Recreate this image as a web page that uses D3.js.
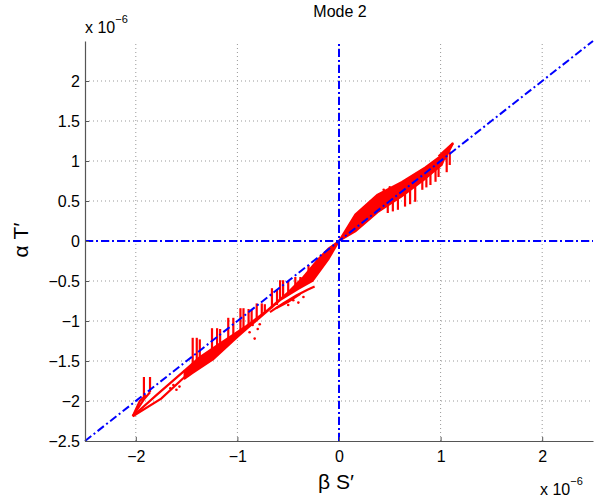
<!DOCTYPE html>
<html>
<head>
<meta charset="utf-8">
<script src="https://cdn.jsdelivr.net/npm/d3@7"></script>
<style>
  body { margin: 0; background: #fff; }
  text { font-family: "Liberation Sans", Arial, sans-serif; fill: #000; }
</style>
</head>
<body>
<div id="chart"></div>
<script>
// values in units of 1e-6
var xTicks = [-2, -1, 0, 1, 2]
var yTicks = [-2.5, -2, -1.5, -1, -0.5, 0, 0.5, 1, 1.5, 2]

// main red band, lower-left part (upper edge then lower edge)
var bandLow = [[-1.52,-1.62],[-1.37,-1.45],[-1.17,-1.28],[-0.91,-1.06],[-0.70,-0.86],
  [-0.50,-0.64],[-0.35,-0.45],[-0.20,-0.22],[-0.10,-0.09],[0,0],
  [-0.10,-0.22],[-0.26,-0.50],[-0.40,-0.60],[-0.58,-0.74],[-0.80,-0.98],
  [-0.91,-1.10],[-1.00,-1.20],[-1.24,-1.48],[-1.44,-1.65],[-1.52,-1.72]]

// main red band, upper-right part
var bandHigh = [[0,0],[0.16,0.33],[0.38,0.58],[0.62,0.74],[0.85,0.92],[1.01,1.07],[1.12,1.22],
  [1.06,1.10],[1.01,0.95],[0.85,0.78],[0.62,0.56],[0.38,0.36],[0.16,0.12],[0,0]]

// thin streaks
var streaks = [
  [[-2.03,-2.19],[-1.80,-1.93],[-1.52,-1.62]],
  [[-2.03,-2.19],[-1.75,-1.97],[-1.52,-1.70]],
  [[-2.03,-2.19],[-1.92,-1.98],[-1.86,-1.89]],
  [[-2.03,-2.19],[-1.96,-2.00],[-1.90,-1.93]],
  [[-0.68,-0.89],[-0.55,-0.78],[-0.42,-0.68],[-0.31,-0.61],[-0.24,-0.57]],
  [[-0.62,-0.84],[-0.50,-0.76],[-0.38,-0.66]],
  [[0.98,1.06],[1.12,1.22]],
  [[1.04,1.02],[1.12,1.22]]
]

// vertical hairs: [x, y1, y2]
var hairs = [
  [-1.92,-1.70,-1.95],[-1.86,-1.70,-1.89],
  [-1.44,-1.21,-1.55],[-1.40,-1.21,-1.50],[-1.37,-1.23,-1.48],
  [-1.25,-1.09,-1.36],[-1.20,-1.09,-1.32],[-1.17,-1.10,-1.30],
  [-1.09,-0.96,-1.22],[-1.04,-0.96,-1.18],
  [-0.97,-0.84,-1.12],[-0.94,-0.84,-1.10],[-0.89,-0.85,-1.06],[-0.86,-0.86,-1.03],
  [-0.81,-0.78,-0.98],[-0.76,-0.78,-0.93],[-0.73,-0.79,-0.90],
  [-0.66,-0.59,-0.84],[-0.61,-0.60,-0.80],
  [-0.58,-0.49,-0.74],[-0.55,-0.49,-0.71],[-0.50,-0.50,-0.66],
  [-0.43,-0.45,-0.58],[-0.38,-0.45,-0.52],
  [-0.30,-0.30,-0.40],[-0.25,-0.31,-0.36],
  [0.48,0.50,0.35],[0.53,0.55,0.37],[0.58,0.60,0.39],
  [0.65,0.68,0.43],[0.70,0.72,0.46],[0.75,0.76,0.49],
  [0.82,0.86,0.64],[0.86,0.89,0.67],[0.90,0.92,0.70],
  [0.95,0.98,0.74],[0.98,1.00,0.80],[1.06,1.08,0.86],[1.09,1.12,0.95]
]

// scattered dots
var dots = [[-0.90,-1.07],[-0.88,-1.14],[-0.85,-1.05],[-0.83,-1.22],[-0.80,-1.10],[-0.78,-1.04],
  [-1.66,-1.84],[-1.63,-1.80],[-1.60,-1.86],[-1.57,-1.82],
  [-0.50,-0.80],[-0.45,-0.74],[-0.40,-0.77],[-0.35,-0.70],
  [0.40,0.58],[0.44,0.64],[0.47,0.60],[0.50,0.67],[0.52,0.62]]

var width = 596,
    height = 499,
    margin = {top: 41, right: 3, bottom: 58, left: 85}

var x = d3.scaleLinear().domain([-2.5, 2.5]).range([margin.left, width - margin.right])
var y = d3.scaleLinear().domain([-2.5, 2.5]).range([height - margin.bottom, margin.top])

var svg = d3.select("#chart").append("svg")
    .attr("width", width)
    .attr("height", height)

svg.append("rect").attr("width", width).attr("height", height).attr("fill", "#fff")

// grid
svg.append("g").selectAll("line").data(xTicks).enter().append("line")
    .attr("x1", function(d) { return x(d) }).attr("x2", function(d) { return x(d) })
    .attr("y1", y(-2.5)).attr("y2", y(2.5))
    .attr("stroke", "#999").attr("stroke-dasharray", "1,3")
svg.append("g").selectAll("line").data(yTicks.filter(function(d) { return d > -2.5 })).enter().append("line")
    .attr("y1", function(d) { return y(d) }).attr("y2", function(d) { return y(d) })
    .attr("x1", x(-2.5)).attr("x2", x(2.5))
    .attr("stroke", "#999").attr("stroke-dasharray", "1,3")

// red data
var line = d3.line().x(function(d) { return x(d[0]) }).y(function(d) { return y(d[1]) })
var red = svg.append("g")
red.selectAll("path.band").data([bandLow, bandHigh]).enter().append("path")
    .attr("d", function(d) { return line(d) + "Z" })
    .attr("fill", "#ff0000").attr("stroke", "#ff0000").attr("stroke-width", 2)
    .attr("stroke-linejoin", "round")
red.selectAll("path.streak").data(streaks).enter().append("path")
    .attr("d", line)
    .attr("fill", "none").attr("stroke", "#ff0000").attr("stroke-width", 2.2)
red.selectAll("line").data(hairs).enter().append("line")
    .attr("x1", function(d) { return x(d[0]) }).attr("x2", function(d) { return x(d[0]) })
    .attr("y1", function(d) { return y(d[1]) }).attr("y2", function(d) { return y(d[2]) })
    .attr("stroke", "#ff0000").attr("stroke-width", 2.2)
red.selectAll("circle").data(dots).enter().append("circle")
    .attr("cx", function(d) { return x(d[0]) }).attr("cy", function(d) { return y(d[1]) })
    .attr("r", 1.3).attr("fill", "#ff0000")

// blue dash-dot reference lines
var refLines = [[[-2.5,-2.5],[2.5,2.5]], [[0,-2.5],[0,2.5]], [[-2.5,0],[2.5,0]]]
svg.append("g").selectAll("path").data(refLines).enter().append("path")
    .attr("d", line)
    .attr("fill", "none").attr("stroke", "#0000ff").attr("stroke-width", 2)
    .attr("stroke-dasharray", "8,3,2,3")

// axes
var fmt = function(d) { return d3.format("")(d).replace("-", "\u2212") }
var xAxis = d3.axisBottom(x).tickValues(xTicks).tickSizeInner(-4).tickSizeOuter(0)
    .tickPadding(10).tickFormat(fmt)
var yAxis = d3.axisLeft(y).tickValues(yTicks).tickSizeInner(-4).tickSizeOuter(0)
    .tickPadding(5).tickFormat(fmt)

var gx = svg.append("g").attr("transform", "translate(0," + y(-2.5) + ")").call(xAxis)
var gy = svg.append("g").attr("transform", "translate(" + x(-2.5) + ",0)").call(yAxis)
gx.selectAll("text").style("font-size", "16px")
gy.selectAll("text").style("font-size", "16px")
svg.selectAll(".domain").attr("stroke", "#555").attr("stroke-width", 1.2)
svg.selectAll(".tick line").attr("stroke", "#555")

// titles
svg.append("text").attr("x", 340).attr("y", 17).attr("text-anchor", "middle")
    .style("font-size", "16px").text("Mode 2")
svg.append("text").attr("x", 336).attr("y", 489).attr("text-anchor", "middle")
    .style("font-size", "21px").text("\u03b2 S\u2032")
svg.append("text").attr("transform", "translate(28,240) rotate(-90)").attr("text-anchor", "middle")
    .style("font-size", "21px").text("\u03b1 T\u2032")

// exponent labels
function expLabel(px, py) {
  var t = svg.append("text").attr("x", px).attr("y", py).style("font-size", "16px")
  t.append("tspan").text("x 10")
  t.append("tspan").attr("dy", -10).style("font-size", "11px").text("\u22126")
}
expLabel(85, 33)
expLabel(540, 495)
</script>
</body>
</html>
